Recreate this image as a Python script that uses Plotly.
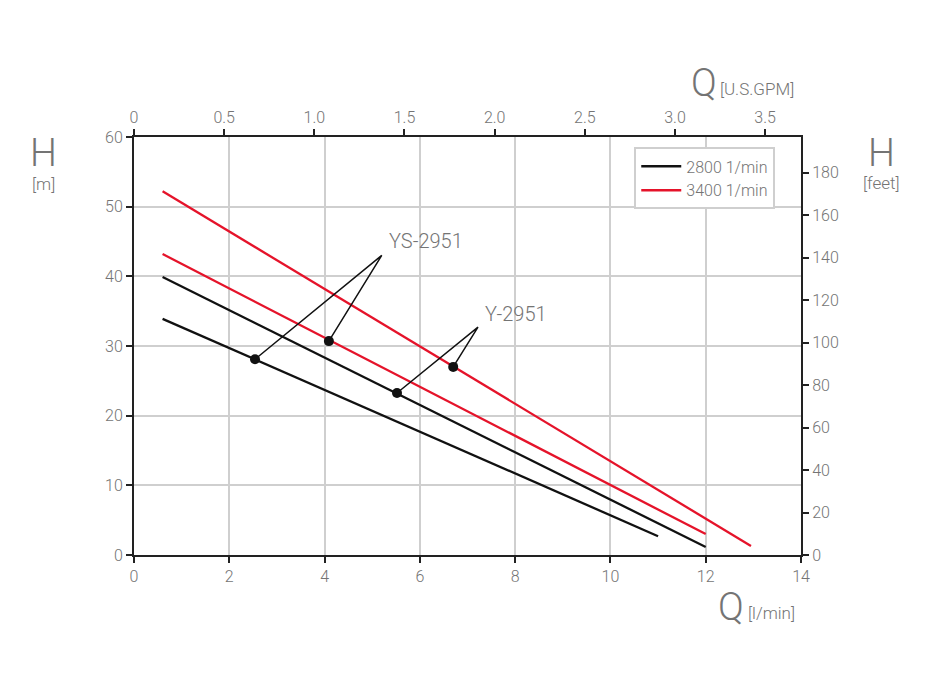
import plotly.graph_objects as go

# Data (Q in l/min, H in m)
y_2800_q = [0.6, 12.0]
y_2800_h = [39.9, 1.15]
ys_2800_q = [0.6, 11.0]
ys_2800_h = [33.9, 2.7]
ys_3400_q = [0.6, 12.0]
ys_3400_h = [43.2, 3.0]
y_3400_q = [0.6, 12.95]
y_3400_h = [52.2, 1.3]

# marker points and label apexes
ys_dots_q = [2.54, 4.09]
ys_dots_h = [28.1, 30.7]
ys_apex = (5.2, 43.0)
y_dots_q = [5.52, 6.70]
y_dots_h = [23.25, 27.0]
y_apex = (7.22, 32.7)

gpm_ticks = [0, 0.5, 1.0, 1.5, 2.0, 2.5, 3.0, 3.5]
gpm_labels = ["0", "0.5", "1.0", "1.5", "2.0", "2.5", "3.0", "3.5"]
LPM_PER_GPM = 3.785
FT_PER_M = 3.2808

BLACK = "#111111"
RED = "#e5132a"
GREY = "#747474"
FONT = "Roboto"
OFF = 7  # page body offset

fig = go.Figure()
lw = 2.3
fig.add_trace(go.Scatter(x=y_3400_q, y=y_3400_h, mode="lines", line=dict(color=RED, width=lw), showlegend=False))
fig.add_trace(go.Scatter(x=ys_3400_q, y=ys_3400_h, mode="lines", line=dict(color=RED, width=lw), showlegend=False))
fig.add_trace(go.Scatter(x=y_2800_q, y=y_2800_h, mode="lines", line=dict(color=BLACK, width=lw), showlegend=False))
fig.add_trace(go.Scatter(x=ys_2800_q, y=ys_2800_h, mode="lines", line=dict(color=BLACK, width=lw), showlegend=False))

# leader lines
for dq, dh, apex in [(ys_dots_q, ys_dots_h, ys_apex), (y_dots_q, y_dots_h, y_apex)]:
    fig.add_trace(go.Scatter(x=[dq[0], apex[0], dq[1]], y=[dh[0], apex[1], dh[1]], mode="lines",
                             line=dict(color=BLACK, width=1.5), showlegend=False))
    fig.add_trace(go.Scatter(x=dq, y=dh, mode="markers", marker=dict(color=BLACK, size=10), showlegend=False))

# legend entries
fig.add_trace(go.Scatter(x=[None], y=[None], mode="lines", line=dict(color=BLACK, width=2.5), name="2800 1/min"))
fig.add_trace(go.Scatter(x=[None], y=[None], mode="lines", line=dict(color=RED, width=2.5), name="3400 1/min"))

# invisible trace for secondary axes
fig.add_trace(go.Scatter(x=[0], y=[0], xaxis="x2", yaxis="y2", mode="markers",
                         marker=dict(opacity=0), showlegend=False, hoverinfo="skip"))

tickfont = dict(family=FONT, size=16, color=GREY, weight=300)
common = dict(showline=True, linecolor="#222222", linewidth=2, ticks="outside", ticklen=6,
              tickwidth=2, tickcolor="#222222", tickfont=tickfont, zeroline=False)

L, R, T, B = 133 - OFF, 129 + OFF, 136 - OFF, 145 + OFF
fig.update_layout(
    width=929, height=699,
    margin=dict(l=L, r=R, t=T, b=B, autoexpand=False),
    paper_bgcolor="white", plot_bgcolor="white",
    font=dict(family=FONT, color=GREY),
    xaxis=dict(range=[0, 14], dtick=2, tick0=0, showgrid=True, gridcolor="#cfcfcf", gridwidth=1.5, **common),
    yaxis=dict(range=[0, 60], dtick=10, tick0=0, showgrid=True, gridcolor="#cfcfcf", gridwidth=1.5, **common),
    xaxis2=dict(range=[0, 14 / LPM_PER_GPM], overlaying="x", side="top", tickvals=gpm_ticks,
                ticktext=gpm_labels, showgrid=False, **common),
    yaxis2=dict(range=[0, 60 * FT_PER_M], overlaying="y", side="right", dtick=20, tick0=0,
                showgrid=False, **common),
    legend=dict(x=0.75, y=0.975, xanchor="left", yanchor="top", bgcolor="white",
                bordercolor="#cfcfcf", borderwidth=2, font=dict(family=FONT, size=16, color=GREY, weight=300),
                tracegroupgap=4, itemwidth=40),
    showlegend=True,
)

ann = []
def px(xp, yp):
    xp -= OFF
    yp -= OFF
    return (xp - L) / (929 - L - R), (699 - B - yp) / (699 - T - B)

for (xp, yp, s, size, xa) in [
    (42, 152, "H", 38, "center"), (42, 183, "[m]", 17, "center"),
    (880, 152, "H", 38, "center"), (880, 182, "[feet]", 17, "center"),
    (703, 82, "Q", 38, "center"), (717, 88, "[U.S.GPM]", 17, "left"),
    (730, 606, "Q", 38, "center"), (745, 612, "[l/min]", 17, "left"),
    (386, 240, "YS-2951", 20, "left"), (482, 313, "Y-2951", 20, "left"),
]:
    x, y = px(xp, yp)
    ann.append(dict(x=x, y=y, xref="paper", yref="paper", text=s, showarrow=False,
                    font=dict(family=FONT, size=size, color=GREY, weight=300),
                    xanchor=xa, yanchor="middle"))
fig.update_layout(annotations=ann)

fig.write_html("out.html")
